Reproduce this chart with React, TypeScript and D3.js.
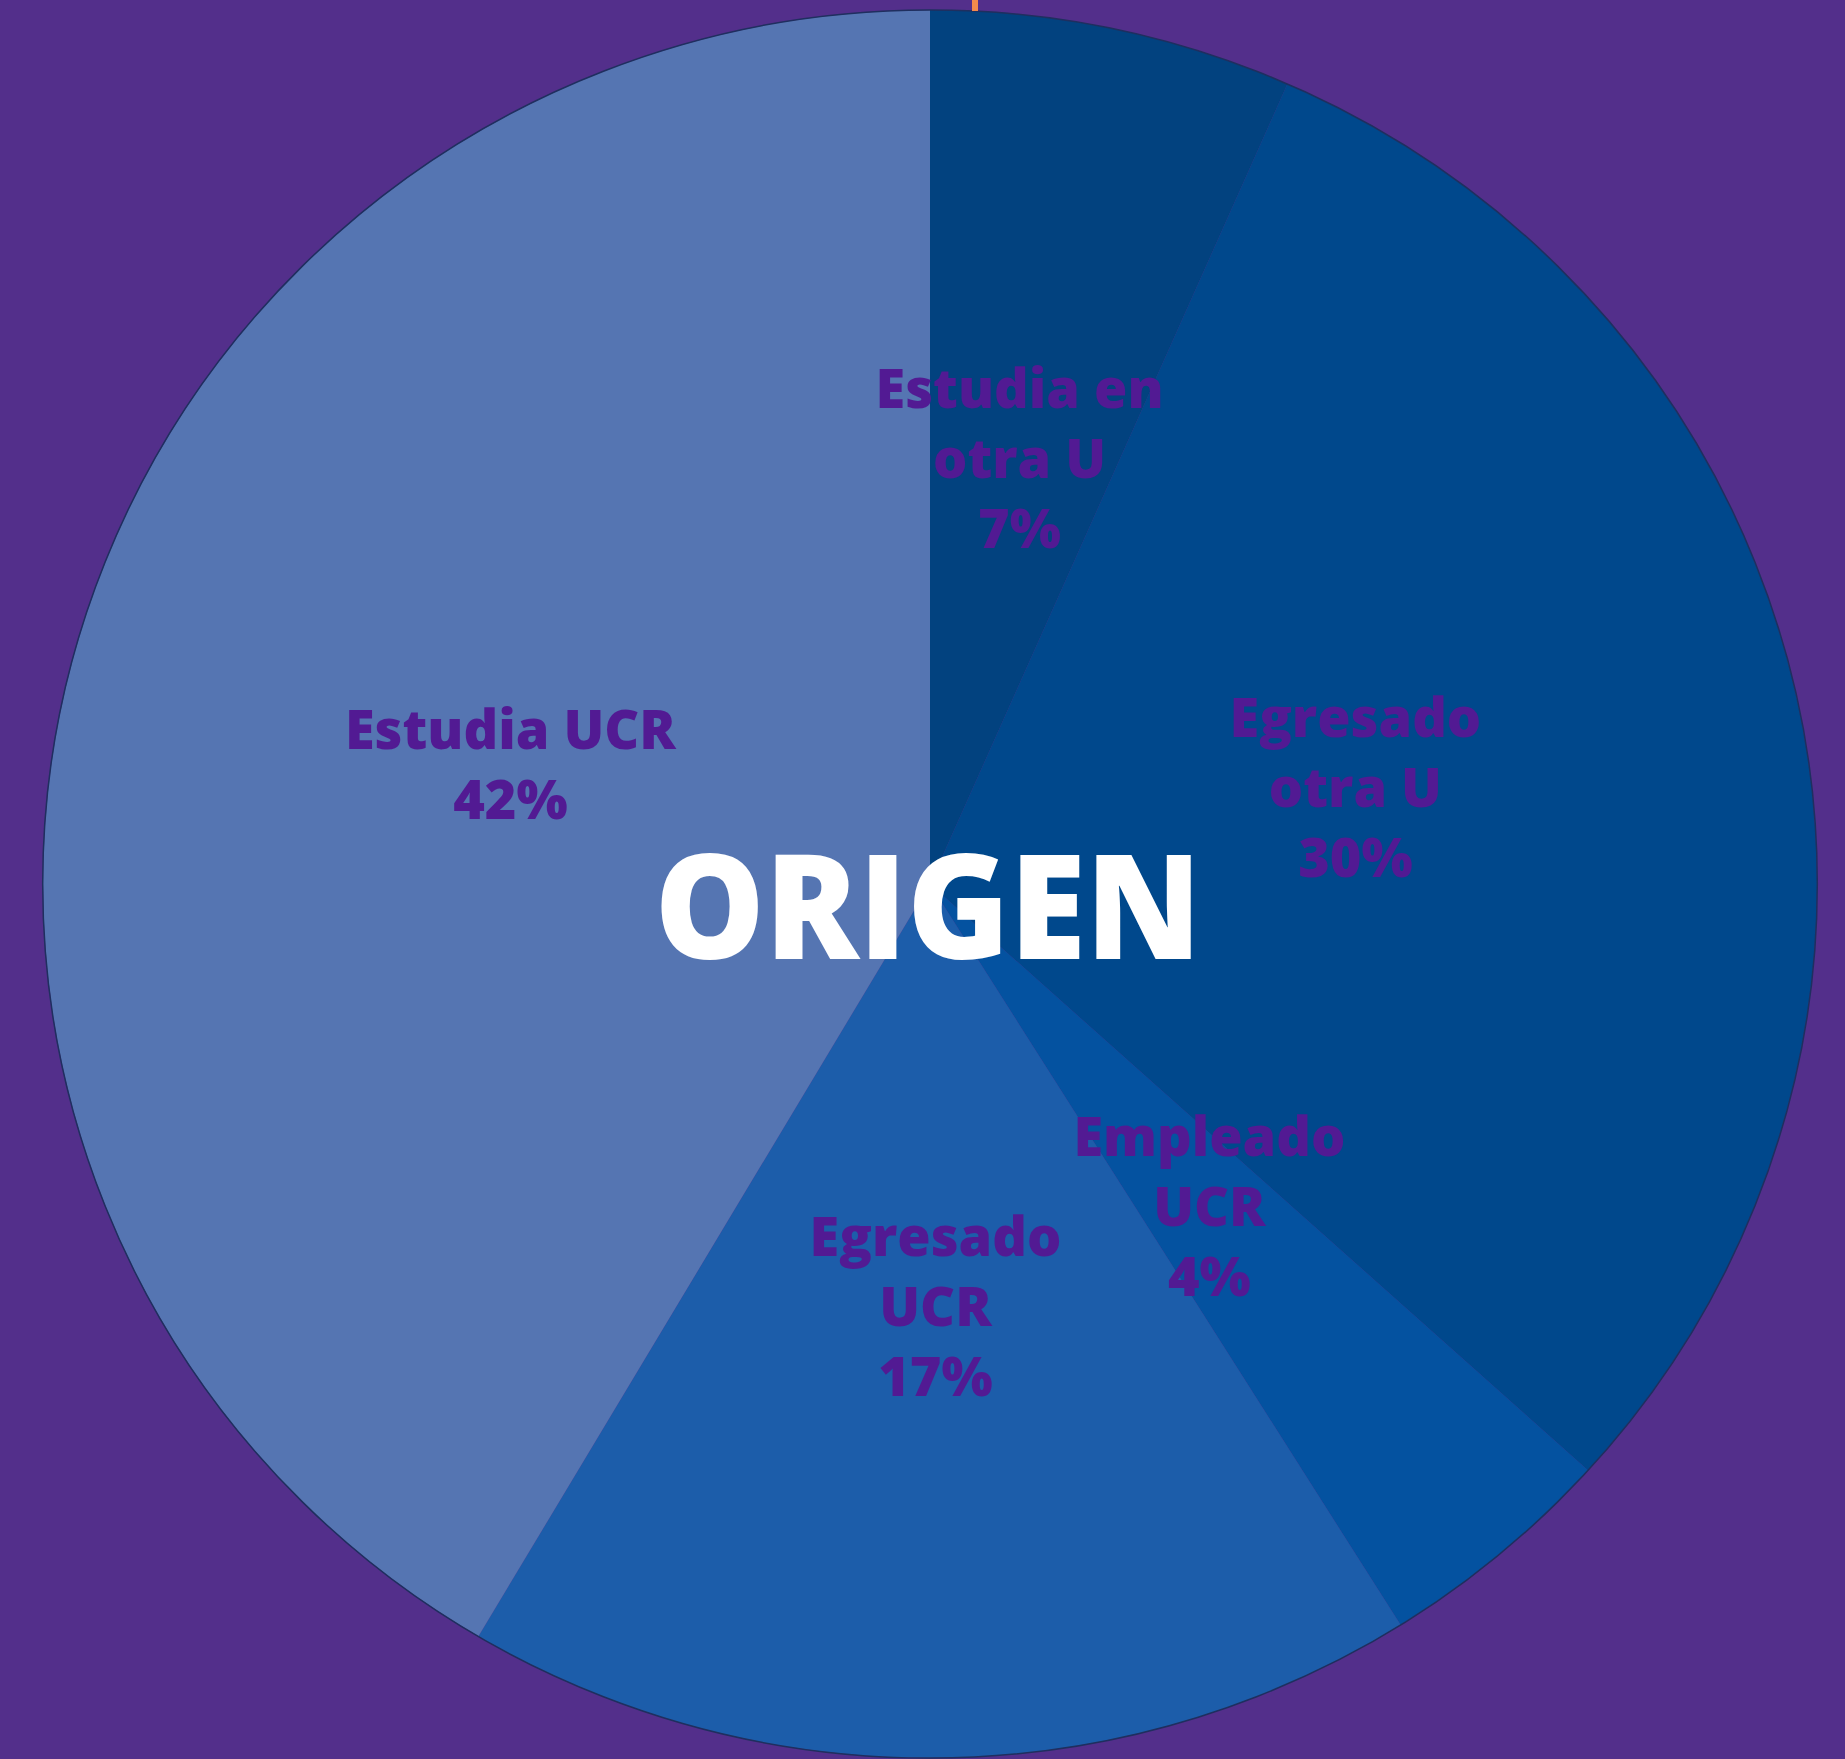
import React from "react";
import * as d3 from "d3";

const categories = ["Estudia en otra U", "Egresado otra U", "Empleado UCR", "Egresado UCR", "Estudia UCR"];
const labelLines = [["Estudia en", "otra U"], ["Egresado", "otra U"], ["Empleado", "UCR"], ["Egresado", "UCR"], ["Estudia UCR"]];
const values = [6.6, 30.1, 4.4, 17.4, 41.5];
const sliceColors = ["#02427f", "#00488c", "#0452a0", "#1c5daa", "#5575b2"];
const title = "ORIGEN";

const W = 1845;
const H = 1759;
const CX = 930;
const CY = 884;
const RX = 887;
const RY = 874;
const LABEL_R = 435;
const LINE_H = 70;

export default function App() {
  const pie = d3.pie<number>().sort(null).value((d) => d)(values);
  const arc = d3.arc<d3.PieArcDatum<number>>().innerRadius(0).outerRadius(RX);
  const labelArc = d3.arc<d3.PieArcDatum<number>>().innerRadius(LABEL_R).outerRadius(LABEL_R);
  const sy = RY / RX;
  const outline = d3.arc()({ innerRadius: 0, outerRadius: RX, startAngle: 0, endAngle: 2 * Math.PI } as any) || "";

  return (
    <svg width={W} height={H} style={{ position: "absolute", left: 0, top: 0, display: "block" }}>
      <rect x={0} y={0} width={W} height={H} fill="#532f8b" />
      <g transform={`translate(${CX},${CY}) scale(1,${sy})`}>
        {pie.map((p, i) => (
          <path key={categories[i]} d={arc(p) || ""} fill={sliceColors[i]} />
        ))}
        <path d={outline} fill="none" stroke="#1f2f5f" strokeWidth={1.5} />
      </g>
      <rect x={972} y={0} width={6} height={11} fill="#f38a4c" />
      <g fontFamily="'Open Sans', Lato, sans-serif" fontWeight={800} fill="#521a93" fontSize={54} textAnchor="middle">
        {pie.map((p, i) => {
          const [lx, ly] = labelArc.centroid(p);
          const lines = [...labelLines[i], `${Math.round(values[i])}%`];
          const x = CX + lx;
          const y = CY + ly * sy;
          return (
            <text key={categories[i]}>
              {lines.map((t, j) => (
                <tspan key={j} x={x} y={y + (j - (lines.length - 1) / 2) * LINE_H + 13}>
                  {t}
                </tspan>
              ))}
            </text>
          );
        })}
      </g>
      <text x={928} y={959} textAnchor="middle" fontFamily="'Open Sans', Lato, sans-serif" fontWeight={800} fontSize={145} fill="#ffffff" textLength={547} lengthAdjust="spacingAndGlyphs">
        {title}
      </text>
    </svg>
  );
}
